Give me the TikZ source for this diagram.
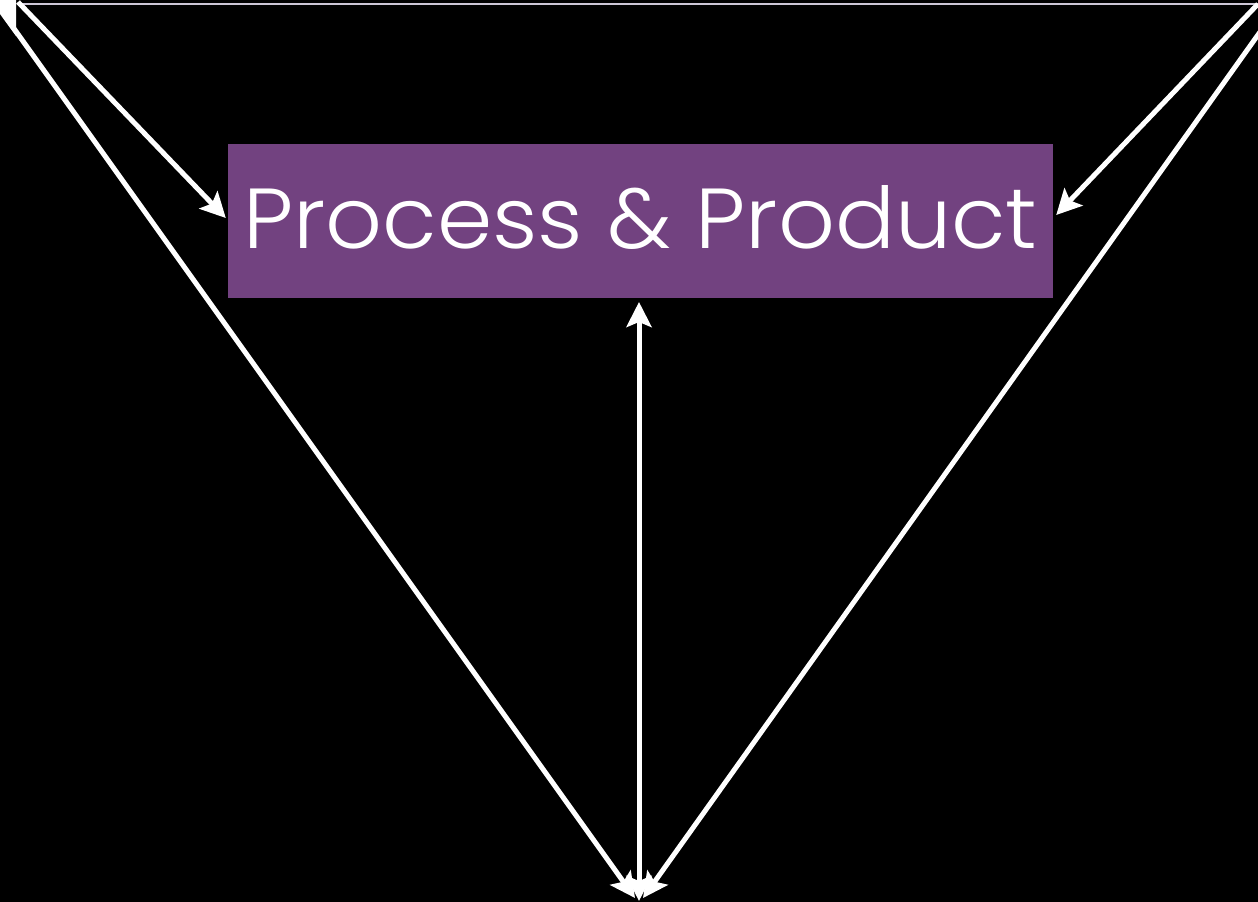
\documentclass[tikz,border=0pt]{standalone}
\usepackage{fontspec}
\newfontfamily\ppfont{Poppins Light}
\usetikzlibrary{arrows.meta,calc}
\definecolor{ppurple}{RGB}{114,66,128}
\definecolor{topline}{RGB}{205,198,214}
\tikzset{
  conn/.style={draw=white, line width=5pt, -{Stealth[length=25pt,width=25pt,inset=5pt]}},
  dconn/.style={draw=white, line width=5pt, {Stealth[length=25pt,width=25pt,inset=5pt]}-{Stealth[length=25pt,width=25pt,inset=5pt]}},
  box/.style={fill=ppurple, draw=none, minimum width=825pt, minimum height=154pt, inner sep=0pt},
  lbl/.style={inner sep=0pt, anchor=base west, text=white}
}
\begin{document}
\begin{tikzpicture}[x=1pt,y=-1pt]
\fill[black] (0,0) rectangle (1258,902);
\useasboundingbox (0,0) rectangle (1258,902);
% cut-off frame edge at top
\draw[topline, line width=1.5pt] (22,4) -- (1258,4);
% cut-off white shape at top-left
\fill[white] (0,0) -- (16,0) -- (16,36) -- (0,14) -- cycle;
% main box
\node[box] (pp) at (640.5,221) {};
\node[lbl] (ppt) at (243,248) {\resizebox{794pt}{63pt}{\ppfont Process \& Product}};
% off-canvas ends
\coordinate (tlA) at (18,2);
\coordinate (tlB) at (5,16);
\coordinate (trC) at (1258,4);
\coordinate (trD) at (1260,32);
\coordinate (botB) at (635,898);
\coordinate (botV) at (639,901);
\coordinate (botD) at (643,898);
\coordinate (vtop) at (639,302);
% connectors
\draw[conn] (tlA) -- ($(pp.west)+(-2,-3)$);
\draw[conn] (trC) -- ($(pp.east)+(3,-6)$);
\draw[conn] (tlB) -- (botB);
\draw[conn] (trD) -- (botD);
\draw[dconn] (vtop) -- (botV);
\end{tikzpicture}
\end{document}
